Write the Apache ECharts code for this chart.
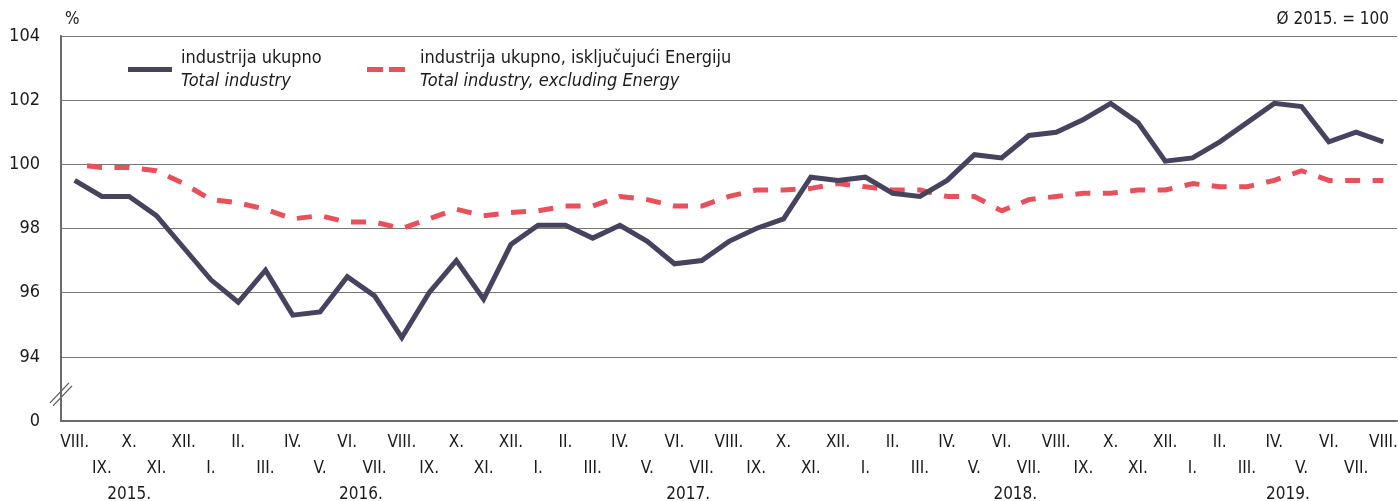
<!DOCTYPE html>
<html lang="hr">
<head>
  <meta charset="UTF-8" />
  <title>Industrija ukupno</title>
  <style>
    html, body { margin: 0; padding: 0; background: #fff }
    #chart { width: 1398px; height: 501px }
  </style>
  <script src="https://cdn.jsdelivr.net/npm/echarts@6/dist/echarts.min.js"></script>
</head>
<body>
  <div id="chart"></div>
  <script>
    // mjeseci VIII. 2015. – VIII. 2019.
    const months = [
      'VIII.', 'IX.', 'X.', 'XI.', 'XII.',
      'I.', 'II.', 'III.', 'IV.', 'V.', 'VI.', 'VII.', 'VIII.', 'IX.', 'X.', 'XI.', 'XII.',
      'I.', 'II.', 'III.', 'IV.', 'V.', 'VI.', 'VII.', 'VIII.', 'IX.', 'X.', 'XI.', 'XII.',
      'I.', 'II.', 'III.', 'IV.', 'V.', 'VI.', 'VII.', 'VIII.', 'IX.', 'X.', 'XI.', 'XII.',
      'I.', 'II.', 'III.', 'IV.', 'V.', 'VI.', 'VII.', 'VIII.'
    ];
    const years = ['2015.', '2016.', '2017.', '2018.', '2019.'];
    const monthsPerYear = [5, 12, 12, 12, 8];

    const seriesNames = ['industrija ukupno', 'industrija ukupno, isključujući Energiju'];
    const seriesNamesEn = ['Total industry', 'Total industry, excluding Energy'];

    const totalIndustry = [
      99.5, 99.0, 99.0, 98.4, 97.4, 96.4, 95.7, 96.7, 95.3, 95.4,
      96.5, 95.9, 94.6, 96.0, 97.0, 95.8, 97.5, 98.1, 98.1, 97.7,
      98.1, 97.6, 96.9, 97.0, 97.6, 98.0, 98.3, 99.6, 99.5, 99.6,
      99.1, 99.0, 99.5, 100.3, 100.2, 100.9, 101.0, 101.4, 101.9, 101.3,
      100.1, 100.2, 100.7, 101.3, 101.9, 101.8, 100.7, 101.0, 100.7
    ];
    const excludingEnergy = [
      100.0, 99.9, 99.9, 99.8, 99.4, 98.9, 98.8, 98.6, 98.3, 98.4,
      98.2, 98.2, 98.0, 98.3, 98.6, 98.4, 98.5, 98.55, 98.7, 98.7,
      99.0, 98.9, 98.7, 98.7, 99.0, 99.2, 99.2, 99.25, 99.4, 99.3,
      99.2, 99.2, 99.0, 99.0, 98.55, 98.9, 99.0, 99.1, 99.1, 99.2,
      99.2, 99.4, 99.3, 99.3, 99.5, 99.8, 99.5, 99.5, 99.5
    ];

    // y os: 92 se prikazuje kao 0 (prekinuta os)
    const yTicks = [92, 94, 96, 98, 100, 102, 104];
    const yTickLabels = ['0', '94', '96', '98', '100', '102', '104'];

    const FONT = "'Liberation Sans Narrow', 'Arial Narrow', 'DejaVu Sans Condensed', sans-serif";
    const TXT = '#1b1b1b';
    const NAVY = '#46435f';
    const RED = '#e8505c';

    // sredina svake godine na kategorijskoj osi
    const yearPos = [];
    let start = 0;
    monthsPerYear.forEach(n => { yearPos.push(start + (n - 1) / 2); start += n; });

    const chart = echarts.init(document.getElementById('chart'), null, { renderer: 'canvas' });

    const legendRich = {
      a: { fontFamily: FONT, fontSize: 18, color: TXT, lineHeight: 23 },
      b: { fontFamily: FONT, fontSize: 18, color: TXT, fontStyle: 'italic', lineHeight: 23 }
    };

    chart.setOption({
      animation: false,
      backgroundColor: '#ffffff',
      title: [
        { text: '%', left: 60, top: 6, textStyle: { fontFamily: FONT, fontSize: 17, fontWeight: 'normal', color: TXT } },
        { text: 'Ø 2015. = 100', right: 4, top: 6, textStyle: { fontFamily: FONT, fontSize: 17, fontWeight: 'normal', color: TXT } }
      ],
      legend: [
        {
          data: [seriesNames[0]], left: 123, top: 44, itemWidth: 44, itemHeight: 14,
          icon: 'path://M0,0 L44,0 L44,5 L0,5 Z',
          itemStyle: { color: NAVY },
          formatter: n => `{a|${n}}\n{b|${seriesNamesEn[0]}}`,
          textStyle: { rich: legendRich, padding: [0, 0, 0, 4] }
        },
        {
          data: [seriesNames[1]], left: 362, top: 44, itemWidth: 38, itemHeight: 14,
          icon: 'path://M0,0 L16,0 L16,5 L0,5 Z M22,0 L38,0 L38,5 L22,5 Z',
          itemStyle: { color: RED },
          formatter: n => `{a|${n}}\n{b|${seriesNamesEn[1]}}`,
          textStyle: { rich: legendRich, padding: [0, 0, 0, 10] }
        }
      ],
      grid: { left: 61, right: 1, top: 36, bottom: 80, outerBoundsMode: 'none', containLabel: false },
      xAxis: [
        {
          type: 'category',
          data: months,
          boundaryGap: true,
          axisLine: { lineStyle: { color: '#6b6b6b', width: 2 } },
          axisTick: { show: false },
          axisLabel: {
            interval: 0,
            margin: 9,
            fontFamily: FONT,
            fontSize: 17,
            color: TXT,
            lineHeight: 26,
            verticalAlign: 'top',
            formatter: (v, i) => (i % 2 ? '\n' + v : v)
          }
        },
        {
          type: 'value',
          position: 'bottom',
          min: -0.5,
          max: months.length - 0.5,
          axisLine: { show: false },
          axisTick: { show: false },
          splitLine: { show: false },
          axisLabel: {
            customValues: yearPos,
            margin: 61,
            fontFamily: FONT,
            fontSize: 17,
            color: TXT,
            lineHeight: 26,
            verticalAlign: 'top',
            formatter: v => years[yearPos.indexOf(v)] || ''
          }
        }
      ],
      yAxis: {
        type: 'value',
        min: 92,
        max: 104,
        interval: 2,
        axisLine: { show: true, onZero: false, lineStyle: { color: '#6b6b6b', width: 2 } },
        axisTick: { show: false },
        splitLine: {
          lineStyle: { color: '#777777', width: 1 },
          showMinLine: false
        },
        axisLabel: {
          margin: 21,
          fontFamily: FONT,
          fontSize: 18,
          color: TXT,
          formatter: v => yTickLabels[yTicks.indexOf(v)]
        }
      },
      series: [
        {
          name: seriesNames[0],
          type: 'line',
          data: totalIndustry,
          showSymbol: false,
          symbol: 'none',
          color: NAVY,
          lineStyle: { color: NAVY, width: 5, join: 'miter', cap: 'butt' },
          z: 3
        },
        {
          name: seriesNames[1],
          type: 'line',
          data: excludingEnergy,
          showSymbol: false,
          symbol: 'none',
          color: RED,
          lineStyle: { color: RED, width: 5, type: [15, 12.5], dashOffset: 15, cap: 'butt' },
          z: 2
        }
      ]
    });

    // oznaka prekida osi (//) između 0 i 94
    const brk = chart.convertToPixel({ yAxisIndex: 0 }, 93);
    const ax = chart.convertToPixel({ xAxisIndex: 1 }, -0.5);
    chart.setOption({
      graphic: [
        { type: 'line', shape: { x1: ax - 11, y1: brk + 14, x2: ax + 8, y2: brk - 6 }, style: { stroke: '#555', lineWidth: 1.2 } },
        { type: 'line', shape: { x1: ax - 8, y1: brk + 17, x2: ax + 11, y2: brk - 3 }, style: { stroke: '#555', lineWidth: 1.2 } }
      ]
    });
  </script>
</body>
</html>
